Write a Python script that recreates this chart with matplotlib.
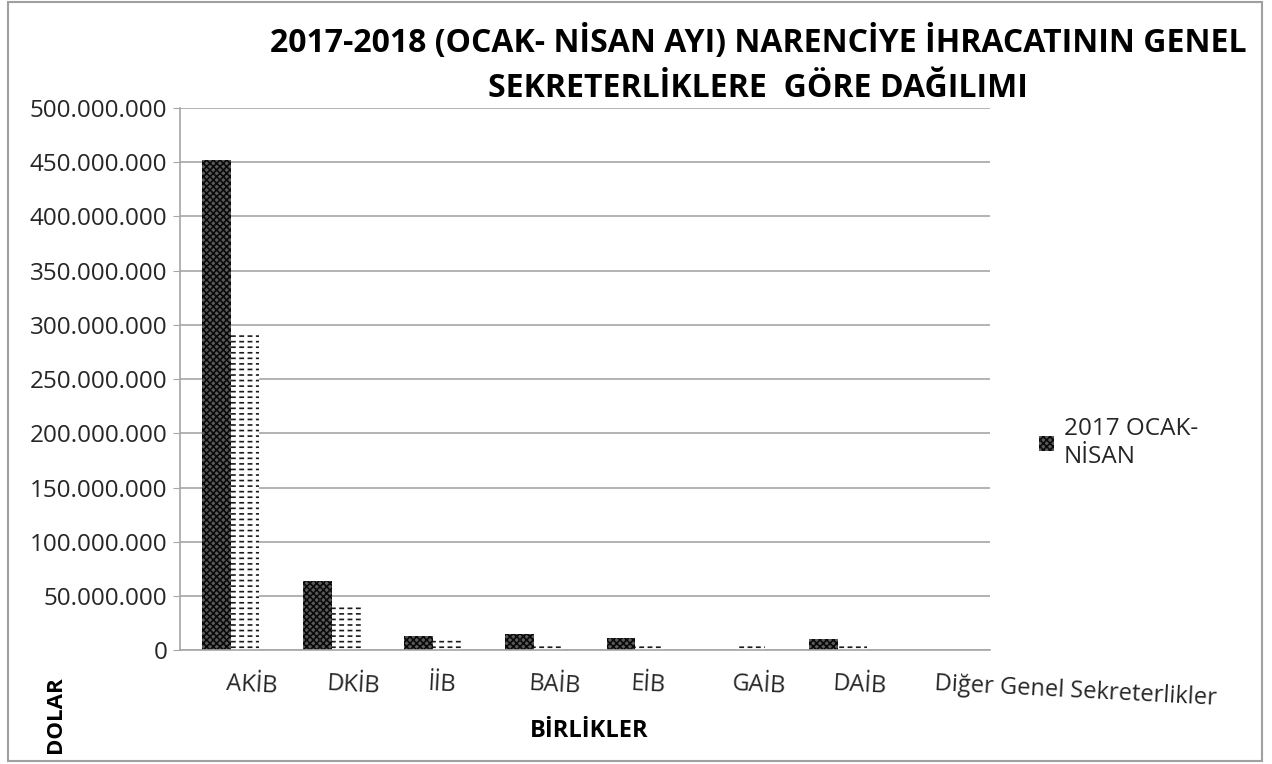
import matplotlib.pyplot as plt
import numpy as np
from matplotlib.patches import Rectangle

plt.rcParams['font.family'] = ['Open Sans', 'DejaVu Sans']
plt.rcParams['hatch.linewidth'] = 1.2

birlikler = ['AKİB', 'DKİB', 'İİB', 'BAİB', 'EİB', 'GAİB', 'DAİB', 'Diğer Genel Sekreterlikler']
ocak_nisan_2017 = [452000000, 64000000, 13500000, 14500000, 11000000, 0, 10500000, 0]
ocak_nisan_2018 = [291000000, 40000000, 10000000, 5500000, 5000000, 4500000, 4500000, 0]
yticks = [0, 50000000, 100000000, 150000000, 200000000, 250000000, 300000000,
          350000000, 400000000, 450000000, 500000000]

fig = plt.figure(figsize=(12.72, 7.64), dpi=100)
ax = fig.add_axes([0.1415, 0.149, 0.6365, 0.7096])

x = np.arange(len(birlikler))
w = 0.285
b1 = ax.bar(x - w / 2, ocak_nisan_2017, w, facecolor='#5a5a5a', edgecolor='#0a0a0a',
            hatch='xxxxx', linewidth=0, label='2017 OCAK-\nNİSAN')
ax.bar(x + w / 2, ocak_nisan_2018, w, facecolor='white', edgecolor='#1a1a1a',
       hatch='---', linewidth=0)
# break the horizontal lines into dashes
gaps = ax.bar(x + w / 2, ocak_nisan_2018, w, facecolor='none', edgecolor='white',
              hatch='||', linewidth=0)
for p in gaps:
    if hasattr(p, 'set_hatch_linewidth'):
        p.set_hatch_linewidth(2.5)

ax.set_xlim(-0.5, len(birlikler) - 0.5)
ax.set_ylim(0, 500000000)
ax.set_yticks(yticks)
ax.set_yticklabels([f'{v:,}'.replace(',', '.') for v in yticks], fontsize=17.5, color='#262626')
ax.yaxis.grid(True, color='#a6a6a6', linewidth=1.2)
ax.set_axisbelow(True)
for s in ['top', 'right']:
    ax.spines[s].set_visible(False)
ax.spines['left'].set_color('#a6a6a6')
ax.spines['bottom'].set_color('#a6a6a6')
ax.spines['left'].set_linewidth(1.2)
ax.spines['bottom'].set_linewidth(1.2)
ax.tick_params(axis='y', length=5, color='#a6a6a6', pad=4)
ax.tick_params(axis='x', length=0, pad=16)

ax.set_xticks(x - 0.04)
ax.set_xticklabels(birlikler, fontsize=17, color='#262626',
                   rotation=-3, rotation_mode='anchor', ha='left')

fig.text(0.596, 0.915, '2017-2018 (OCAK- NİSAN AYI) NARENCİYE İHRACATININ GENEL\nSEKRETERLİKLERE  GÖRE DAĞILIMI',
         ha='center', va='center', fontsize=23, fontweight='bold', linespacing=1.45)
fig.text(0.463, 0.043, 'BİRLİKLER', ha='center', va='center', fontsize=17, fontweight='bold')
fig.text(0.044, 0.065, 'DOLAR', ha='center', va='center', rotation=90, fontsize=16, fontweight='bold')

fig.legend(handles=[b1], loc='center left', bbox_to_anchor=(0.8, 0.42), frameon=False,
           fontsize=17.5, handlelength=0.6, handleheight=0.6, handletextpad=0.4,
           labelcolor='#262626', labelspacing=0.2)

fig.patches.append(Rectangle((0.006, 0.004), 0.986, 0.994, transform=fig.transFigure,
                             fill=False, edgecolor='#a0a0a0', linewidth=1.5))

fig.savefig('out.png', dpi=100)
